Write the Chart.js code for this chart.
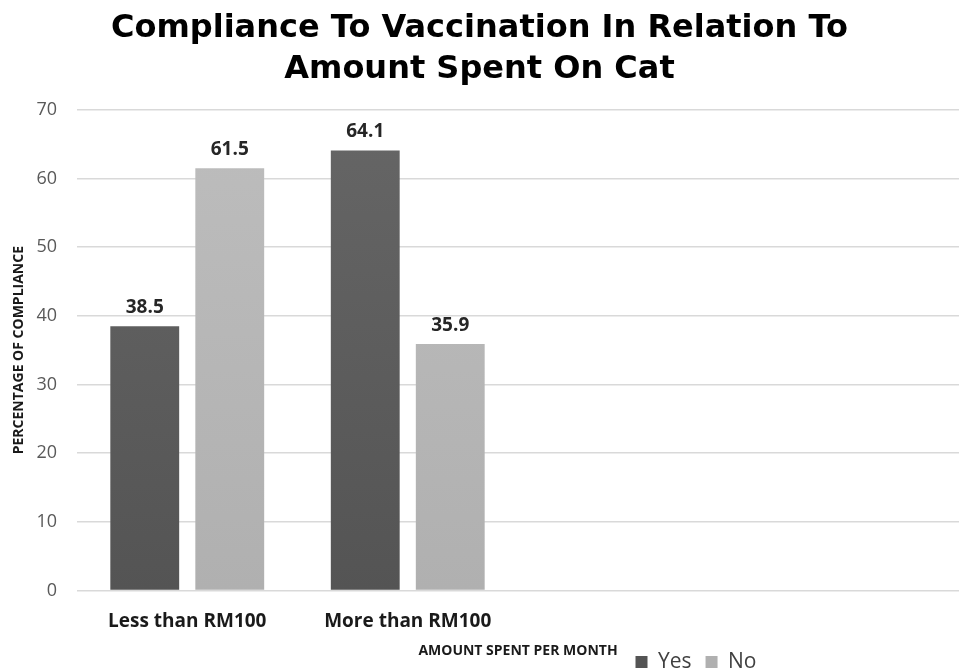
<!DOCTYPE html>
<html>
<head>
<meta charset="utf-8">
<script src="https://cdn.jsdelivr.net/npm/chart.js@4.4.1/dist/chart.umd.min.js"></script>
<style>
  body { margin: 0; background: #fff; }
  #chart { display: block; }
</style>
</head>
<body>
<canvas id="chart" width="959" height="668"></canvas>
<script>
'use strict';
// chart data
var categories = ['Less than RM100', 'More than RM100', '', ''];
var yesValues = [38.5, 64.1, null, null];
var noValues = [61.5, 35.9, null, null];
var yTicks = [0, 10, 20, 30, 40, 50, 60, 70];

// vertical shading for the bars
function shade(ctx, top, bottom) {
  var chart = ctx.chart;
  var area = chart.chartArea;
  if (!area) {
    return bottom;
  }
  var g = chart.ctx.createLinearGradient(0, area.top, 0, area.bottom);
  g.addColorStop(0, top);
  g.addColorStop(1, bottom);
  return g;
}

// value labels above each bar
var barLabels = {
  id: 'barLabels',
  afterDatasetsDraw: function(chart) {
    var ctx = chart.ctx;
    ctx.save();
    ctx.font = 'bold 19px "Open Sans", sans-serif';
    ctx.fillStyle = '#262626';
    ctx.textAlign = 'center';
    ctx.textBaseline = 'alphabetic';
    chart.data.datasets.forEach(function(ds, i) {
      chart.getDatasetMeta(i).data.forEach(function(bar, j) {
        if (ds.data[j] == null) return;
        ctx.fillText(ds.data[j].toFixed(1), bar.x, bar.y - 13);
      });
    });
    ctx.restore();
  }
};

// put the legend next to the x axis title
var legendSpot = {
  id: 'legendSpot',
  afterLayout: function(chart) {
    var lg = chart.legend;
    var w = lg.right - lg.left;
    var h = lg.bottom - lg.top;
    var cx = 696;
    var cy = 660;
    lg.left = cx - w / 2;
    lg.right = cx + w / 2;
    lg.top = cy - h / 2;
    lg.bottom = cy + h / 2;
  }
};

var ctx = document.getElementById('chart').getContext('2d');
new Chart(ctx, {
  type: 'bar',
  data: {
    labels: categories,
    datasets: [
      {
        label: 'Yes',
        data: yesValues,
        backgroundColor: function(c) { return shade(c, '#666666', '#545454'); },
        categoryPercentage: 0.771,
        barPercentage: 0.81
      },
      {
        label: 'No',
        data: noValues,
        backgroundColor: function(c) { return shade(c, '#bdbdbd', '#b0b0b0'); },
        categoryPercentage: 0.771,
        barPercentage: 0.81
      }
    ]
  },
  options: {
    responsive: false,
    animation: false,
    layout: {
      padding: { left: 0, right: 0, top: 8, bottom: -36 }
    },
    plugins: {
      title: {
        display: true,
        text: ['Compliance To Vaccination In Relation To', 'Amount Spent On Cat'],
        color: '#000',
        font: { family: '"DejaVu Sans", sans-serif', size: 32, weight: 'bold', lineHeight: 1.28 },
        padding: { top: 0, bottom: 20 }
      },
      legend: {
        position: 'bottom',
        labels: {
          boxWidth: 12,
          boxHeight: 12,
          padding: 14,
          color: '#404040',
          font: { family: '"Open Sans", sans-serif', size: 21 }
        }
      },
      tooltip: { enabled: false }
    },
    scales: {
      x: {
        grid: { display: false },
        border: { display: true, color: '#d9d9d9', dash: [2, 4] },
        ticks: {
          color: '#1a1a1a',
          padding: 12,
          font: { family: '"Open Sans", sans-serif', size: 19, weight: 'bold' }
        },
        title: {
          display: true,
          text: 'AMOUNT SPENT PER MONTH',
          color: '#1a1a1a',
          padding: { top: -3, bottom: 0 },
          font: { family: '"Open Sans", sans-serif', size: 14, weight: 'bold' }
        }
      },
      y: {
        min: 0,
        max: 70,
        afterBuildTicks: function(axis) {
          axis.ticks = yTicks.map(function(v) { return { value: v }; });
        },
        afterFit: function(axis) {
          axis.width = 77;
        },
        grid: { color: '#d9d9d9', drawTicks: false, lineWidth: 1.5 },
        border: { display: false },
        ticks: {
          color: '#595959',
          padding: 20,
          font: { family: '"Open Sans", sans-serif', size: 18 }
        },
        title: {
          display: true,
          text: 'PERCENTAGE OF COMPLIANCE',
          color: '#1a1a1a',
          padding: { top: 11, bottom: 8 },
          font: { family: '"Open Sans", sans-serif', size: 14, weight: 'bold' }
        }
      }
    }
  },
  plugins: [barLabels, legendSpot]
});
</script>
</body>
</html>
